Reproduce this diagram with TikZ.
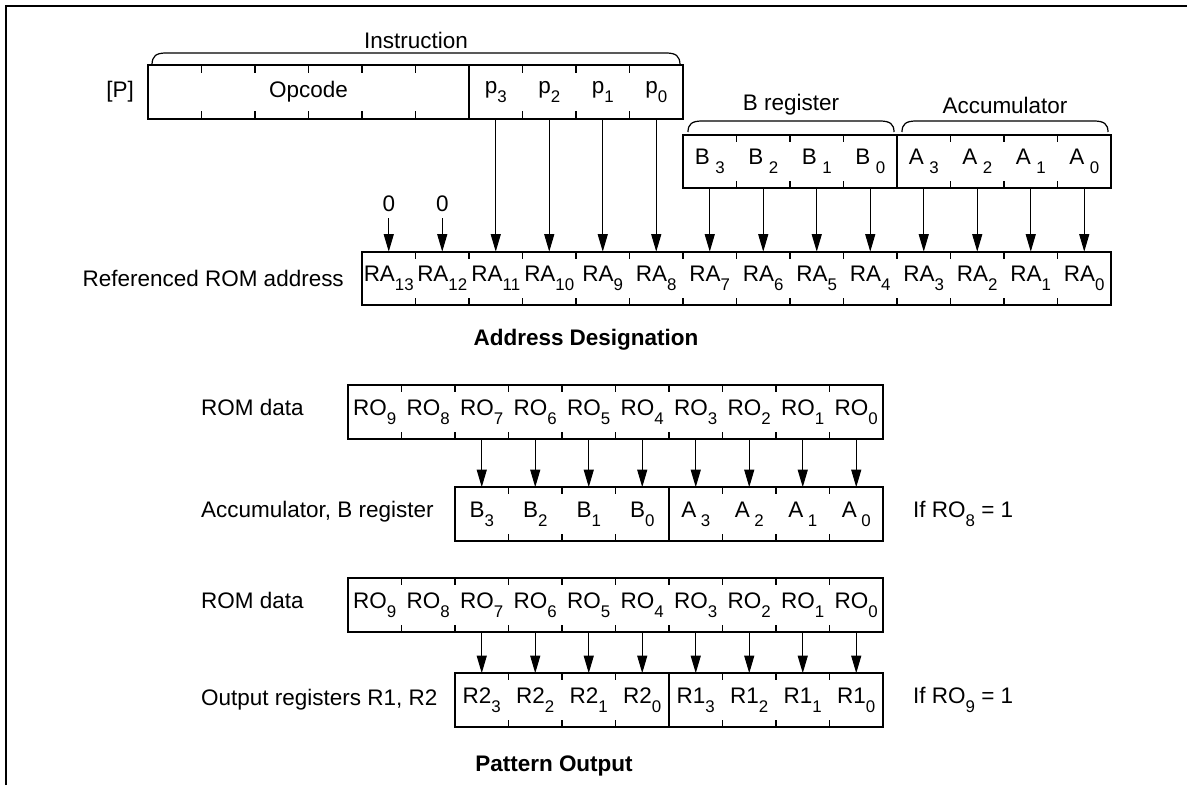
\documentclass[tikz,border=0pt]{standalone}
\usepackage{fontspec}
\setmainfont{Liberation Sans}
\usetikzlibrary{arrows.meta}

% tiefgestellte Ziffern
\newcommand{\dn}[1]{\raisebox{-0.4em}{\fontsize{9.6}{10}\selectfont #1}}

\tikzset{
  cell/.style={minimum width=1.07cm, minimum height=1.06cm, inner sep=0pt},
  bx/.style={line width=1.1pt},
  tck/.style={line width=0.8pt},
  frm/.style={line width=1.1pt},
  brc/.style={line width=0.7pt},
  arr/.style={line width=0.6pt, -{Triangle[length=0.35cm, width=0.2cm]}},
  ttl/.style={font=\fontsize{12.8}{15}\selectfont\bfseries},
}

\begin{document}
\begin{tikzpicture}[x=0.02cm, y=-0.02cm, font=\fontsize{12.8}{15}\selectfont]
  \useasboundingbox (0,0) rectangle (1187,785);
  % Rahmen
  \draw[frm] (6,785) -- (6,6) -- (1187,6);

  % Befehlswort
  \node (instr) at (416,40) {Instruction};
  \draw[brc] (152,65) .. controls (152,56) and (156,53) .. (166,53) -- (666,53) .. controls (676,53) and (680,56) .. (680,65);
  \node[anchor=east] (plbl) at (140,92) {[P]};
  \node (opc) [cell, minimum width=6.42cm] at (308.5,92) {Opcode};
  \foreach \i in {3,2,1,0}
    \node (p\i) [cell] at ({469+(3.5-\i)*53.5},92) {p\dn{\i}};
  \draw[bx] (opc.north west) rectangle (p0.south east);
  \draw[bx] (opc.north east) -- (opc.south east);
  \foreach \k in {1,2,3,4,5,7,8,9} {
    \draw[tck] ({148+\k*53.5},66) -- ++(0,7);
    \draw[tck] ({148+\k*53.5},118) -- ++(0,-7);
  }

  % B-Register und Akkumulator
  \node (blbl) at (791,105) {B register};
  \node (albl) at (1005,105) {Accumulator};
  \draw[brc] (688,132) .. controls (688,124) and (692,121) .. (702,121) -- (880,121) .. controls (890,121) and (894,124) .. (894,132);
  \draw[brc] (902,132) .. controls (902,124) and (906,121) .. (916,121) -- (1094,121) .. controls (1104,121) and (1108,124) .. (1108,132);
  \foreach \i in {3,2,1,0} {
    \node (b\i) [cell] at ({683+(3.5-\i)*53.5},161.5) {B\hspace{0.25em}\dn{\i}};
    \node (a\i) [cell] at ({897+(3.5-\i)*53.5},161.5) {A\hspace{0.25em}\dn{\i}};
  }
  \draw[bx] (b3.north west) rectangle (a0.south east);
  \draw[bx] (b0.north east) -- (b0.south east);
  \foreach \k in {1,2,3,5,6,7} {
    \draw[tck] ({683+\k*53.5},135) -- ++(0,7);
    \draw[tck] ({683+\k*53.5},188) -- ++(0,-7);
  }

  % ROM-Adresse
  \node[anchor=east] (ralbl) at (350,278.5) {Referenced ROM address};
  \foreach \i in {13,12,...,0}
    \node (ra\i) [cell] at ({362+(13.5-\i)*53.5},278.5) {RA\dn{\i}};
  \draw[bx] (ra13.north west) rectangle (ra0.south east);
  \foreach \k in {1,...,13} {
    \draw[tck] ({362+\k*53.5},252) -- ++(0,7);
    \draw[tck] ({362+\k*53.5},305) -- ++(0,-7);
  }
  \node (z13) at (388.75,204) {0};
  \node (z12) at (442.25,204) {0};
  \draw[arr] (z13) -- (ra13);
  \draw[arr] (z12) -- (ra12);
  \foreach \i/\j in {3/11,2/10,1/9,0/8}
    \draw[arr] (p\i) -- (ra\j);
  \foreach \i/\j in {3/7,2/6,1/5,0/4} {
    \draw[arr] (b\i) -- (ra\j);
    \draw[arr] (a\i) -- (ra\i);
  }
  \node[ttl] (adt) at (586,340) {Address Designation};

  % ROM-Daten -> Akkumulator, B-Register
  \node[anchor=west] (rdalbl) at (195,407) {ROM data};
  \foreach \i in {9,8,...,0}
    \node (rda\i) [cell] at ({348+(9.5-\i)*53.5},412) {RO\dn{\i}};
  \draw[bx] (rda9.north west) rectangle (rda0.south east);
  \foreach \k in {1,...,9} {
    \draw[tck] ({348+\k*53.5},385) -- ++(0,7);
    \draw[tck] ({348+\k*53.5},439) -- ++(0,-7);
  }
  \node[anchor=west] (abllbl) at (195,512) {Accumulator, B register};
  \foreach \i in {3,2,1,0} {
    \node (ab\i) [cell] at ({455+(3.5-\i)*53.5},514) {B\dn{\i}};
    \node (aa\i) [cell] at ({669+(3.5-\i)*53.5},514) {A\hspace{0.2em}\dn{\i}};
  }
  \draw[bx] (ab3.north west) rectangle (aa0.south east);
  \draw[bx] (ab0.north east) -- (ab0.south east);
  \foreach \k in {1,2,3,5,6,7} {
    \draw[tck] ({455+\k*53.5},487) -- ++(0,7);
    \draw[tck] ({455+\k*53.5},541) -- ++(0,-7);
  }
  \foreach \i/\j in {7/3,6/2,5/1,4/0} {
    \draw[arr] (rda\i) -- (ab\j);
    \draw[arr] (rda\j) -- (aa\j);
  }
  \node[anchor=west] (if8) at (907,514) {If RO\dn{8} = 1};

  % ROM-Daten -> Ausgaberegister
  \node[anchor=west] (rdblbl) at (195,600) {ROM data};
  \foreach \i in {9,8,...,0}
    \node (rdb\i) [cell] at ({348+(9.5-\i)*53.5},605) {RO\dn{\i}};
  \draw[bx] (rdb9.north west) rectangle (rdb0.south east);
  \foreach \k in {1,...,9} {
    \draw[tck] ({348+\k*53.5},578) -- ++(0,7);
    \draw[tck] ({348+\k*53.5},632) -- ++(0,-7);
  }
  \node[anchor=west] (outlbl) at (195,700) {Output registers R1, R2};
  \foreach \i in {3,2,1,0} {
    \node (ob\i) [cell] at ({455+(3.5-\i)*53.5},700) {R2\dn{\i}};
    \node (oa\i) [cell] at ({669+(3.5-\i)*53.5},700) {R1\dn{\i}};
  }
  \draw[bx] (ob3.north west) rectangle (oa0.south east);
  \draw[bx] (ob0.north east) -- (ob0.south east);
  \foreach \k in {1,2,3,5,6,7} {
    \draw[tck] ({455+\k*53.5},673) -- ++(0,7);
    \draw[tck] ({455+\k*53.5},727) -- ++(0,-7);
  }
  \foreach \i/\j in {7/3,6/2,5/1,4/0} {
    \draw[arr] (rdb\i) -- (ob\j);
    \draw[arr] (rdb\j) -- (oa\j);
  }
  \node[anchor=west] (if9) at (907,700) {If RO\dn{9} = 1};
  \node[ttl] (pto) at (554,766) {Pattern Output};
\end{tikzpicture}
\end{document}
